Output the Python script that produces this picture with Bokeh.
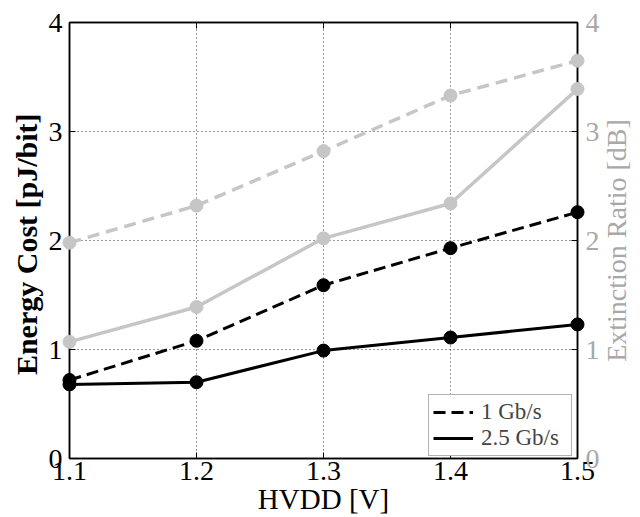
import math
from bokeh.plotting import figure
from bokeh.models import (Range1d, LinearAxis, FixedTicker, Legend, LegendItem,
                          CustomJSTickFormatter)
from bokeh.core.properties import value
from bokeh.embed import file_html
from bokeh.resources import INLINE

# ---- data ----
hvdd = [1.1, 1.2, 1.3, 1.4, 1.5]
energy_1g = [0.72, 1.08, 1.59, 1.93, 2.26]
energy_2g5 = [0.68, 0.70, 0.99, 1.11, 1.23]
er_1g = [1.98, 2.32, 2.82, 3.33, 3.65]
er_2g5 = [1.07, 1.39, 2.02, 2.34, 3.39]
x_ticks = [1.1, 1.2, 1.3, 1.4, 1.5]
y_ticks = [0, 1, 2, 3, 4]
legend_labels = ["1 Gb/s", "2.5 Gb/s"]
x_label = "HVDD [V]"
y_label = "Energy Cost  [pJ/bit]"
y2_label = "Extinction Ratio [dB]"

FONT = "Liberation Serif"
GRAY = "#c6c6c6"
GRAY_TXT = "#a8a8a8"
FS = "28px"

p = figure(frame_width=508, frame_height=436, output_backend="svg", toolbar_location=None,
           x_range=Range1d(1.1, 1.5), y_range=Range1d(0, 4),
           min_border_left=69, min_border_right=63, min_border_top=22, min_border_bottom=59)
p.extra_y_ranges = {"er": Range1d(0, 4)}

p.outline_line_color = "black"
p.outline_line_width = 1.5
p.background_fill_color = "white"
p.border_fill_color = "white"

# axes
p.xaxis.ticker = FixedTicker(ticks=x_ticks)
p.yaxis.ticker = FixedTicker(ticks=y_ticks)
for ax in [p.xaxis[0], p.yaxis[0]]:
    ax.major_tick_in = 6
    ax.major_tick_out = 0
    ax.minor_tick_line_color = None
    ax.axis_line_color = "black"
    ax.axis_line_width = 1.5
    ax.major_label_text_font = FONT
    ax.major_label_text_font_size = FS
    ax.major_label_text_color = "black"
    ax.axis_label_text_font = FONT
    ax.axis_label_text_font_style = "normal"
    ax.axis_label_text_color = "black"
p.xaxis.axis_label = x_label
p.xaxis.axis_label_text_font_size = "29px"
p.xaxis.major_label_standoff = 3
p.xaxis.axis_label_standoff = 0
p.yaxis.axis_label = y_label
p.yaxis.axis_label_text_font_size = "30px"
p.yaxis.axis_label_text_font_style = "bold"
p.yaxis.major_label_standoff = 7
p.yaxis.axis_label_standoff = 3

rax = LinearAxis(y_range_name="er", ticker=FixedTicker(ticks=y_ticks))
rax.major_tick_in = 6
rax.major_tick_out = 0
rax.minor_tick_line_color = None
rax.axis_line_color = "black"
rax.axis_line_width = 1.5
rax.major_label_text_font = FONT
rax.major_label_text_font_size = FS
rax.major_label_text_color = GRAY_TXT
rax.major_label_standoff = 8
p.add_layout(rax, "right")

tax = LinearAxis(ticker=FixedTicker(ticks=x_ticks),
                 formatter=CustomJSTickFormatter(code="return ''"))
tax.major_tick_in = 6
tax.major_tick_out = 0
tax.minor_tick_line_color = None
tax.axis_line_color = "black"
tax.axis_line_width = 1.5
tax.major_label_standoff = 0
p.add_layout(tax, "above")

# grid
p.xgrid.ticker = FixedTicker(ticks=x_ticks)
p.ygrid.ticker = FixedTicker(ticks=y_ticks)
for g in [p.xgrid[0], p.ygrid[0]]:
    g.grid_line_color = "black"
    g.grid_line_dash = "1 3"
    g.grid_line_width = 1
    g.grid_line_alpha = 0.8

# gray series (extinction ratio)
p.line(hvdd, er_1g, line_color=GRAY, line_width=3.5, line_dash="12 7", y_range_name="er")
p.line(hvdd, er_2g5, line_color=GRAY, line_width=3.5, y_range_name="er")
p.scatter(hvdd, er_1g, size=13, color=GRAY, y_range_name="er", level="overlay")
p.scatter(hvdd, er_2g5, size=13, color=GRAY, y_range_name="er", level="overlay")

# black series (energy cost)
l1 = p.line(hvdd, energy_1g, line_color="black", line_width=3, line_dash="12 6")
l2 = p.line(hvdd, energy_2g5, line_color="black", line_width=3)
p.scatter(hvdd, energy_1g, size=13, color="black", level="overlay")
p.scatter(hvdd, energy_2g5, size=13, color="black", level="overlay")

# right-axis title, reading bottom-to-top as in the reference
p.text(x=[x_ticks[-1]], y=[(y_ticks[0] + y_ticks[-1]) / 2], text=[y2_label],
       y_range_name="er", x_offset=39, angle=math.pi / 2,
       text_align="center", text_baseline="middle",
       text_font=value(FONT), text_font_size=value("28px"), text_color=GRAY_TXT,
       level="overlay")

legend = Legend(items=[LegendItem(label=legend_labels[0], renderers=[l1]),
                       LegendItem(label=legend_labels[1], renderers=[l2])],
                location=(359, 2))
legend.label_text_font = FONT
legend.label_text_font_size = "23px"
legend.glyph_width = 40
legend.glyph_height = 22
legend.label_height = 22
legend.label_width = 86
legend.label_standoff = 8
legend.padding = 4
legend.spacing = 0
legend.margin = 0
legend.border_line_color = "#666666"
legend.border_line_width = 1.5
legend.background_fill_alpha = 1
p.add_layout(legend, "center")

open("out.html", "w").write(file_html(p, INLINE))
